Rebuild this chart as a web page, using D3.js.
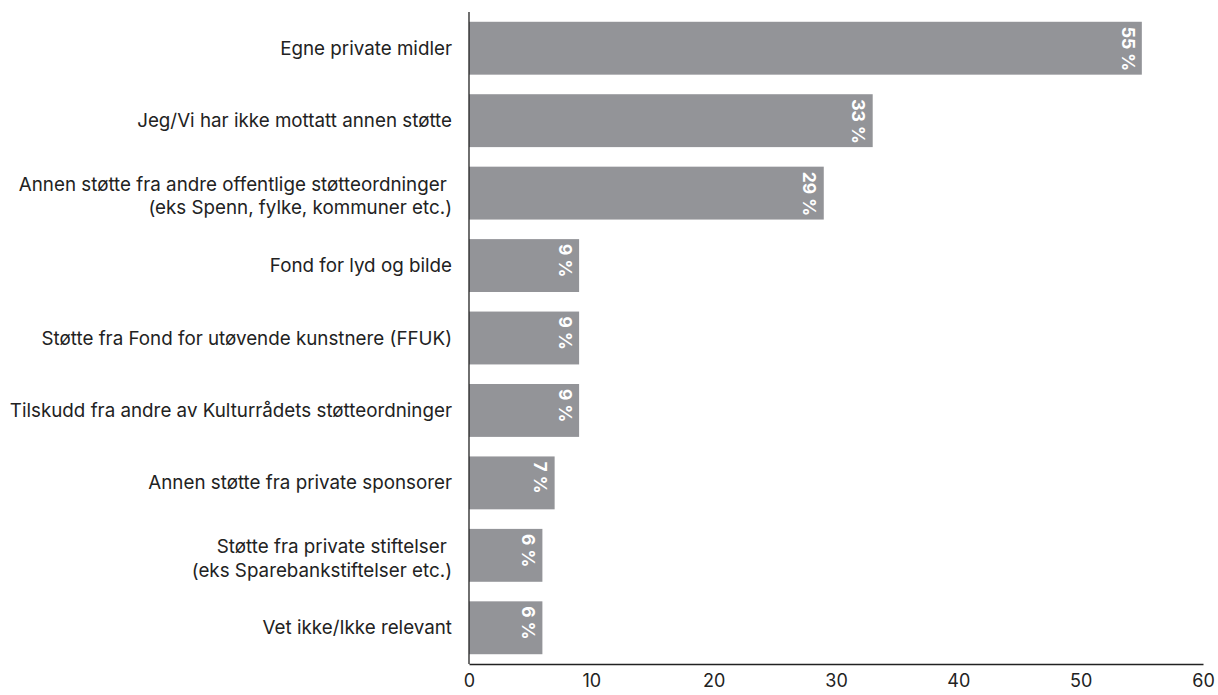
<!DOCTYPE html>
<html>
<head>
<meta charset="utf-8">
<script src="https://cdn.jsdelivr.net/npm/d3@7"></script>
<style>
  body { margin: 0; background: #fff; }
  svg { display: block; font-family: Inter, 'Liberation Sans', sans-serif; }
  .cat tspan { white-space: pre; }
</style>
</head>
<body>
<div id="chart"></div>
<script>
// categories and values (percent)
const categories = [
    ['Egne private midler'],
    ['Jeg/Vi har ikke mottatt annen støtte'],
    ['Annen støtte fra andre offentlige støtteordninger ', '(eks Spenn, fylke, kommuner etc.)'],
    ['Fond for lyd og bilde'],
    ['Støtte fra Fond for utøvende kunstnere (FFUK)'],
    ['Tilskudd fra andre av Kulturrådets støtteordninger'],
    ['Annen støtte fra private sponsorer'],
    ['Støtte fra private stiftelser ', '(eks Sparebankstiftelser etc.)'],
    ['Vet ikke/Ikke relevant']
];
const values = [55, 33, 29, 9, 9, 9, 7, 6, 6];
const xTicks = [0, 10, 20, 30, 40, 50, 60];

const barColor = '#939498';
const textColor = '#222222';

const width = 1218;
const height = 695;

const svg = d3.select('#chart')
    .append('svg')
    .attr('width', width)
    .attr('height', height);

const x = d3.scaleLinear()
    .domain([0, 60])
    .range([469, 1203]);

const y = d3.scaleBand()
    .domain(d3.range(categories.length))
    .range([12, 664])
    .paddingInner(0.27)
    .paddingOuter(0.135);

// bars
svg.selectAll('rect.bar')
    .data(values)
    .enter()
    .append('rect')
    .attr('class', 'bar')
    .attr('x', x(0))
    .attr('y', (d, i) => y(i))
    .attr('width', d => x(d) - x(0))
    .attr('height', y.bandwidth())
    .attr('fill', barColor);

// value labels, rotated
svg.selectAll('text.value')
    .data(values)
    .enter()
    .append('text')
    .attr('class', 'value')
    .attr('transform', (d, i) => 'translate(' + (x(d) - 14) + ',' + (y(i) + 5) + ') rotate(90)')
    .attr('dy', '0.36em')
    .attr('fill', '#fff')
    .attr('font-weight', 'bold')
    .attr('font-size', 17.5)
    .text(d => d + ' %');

// category labels
const labels = svg.selectAll('text.cat')
    .data(categories)
    .enter()
    .append('text')
    .attr('class', 'cat')
    .attr('text-anchor', 'end')
    .attr('fill', textColor)
    .attr('font-size', 18.8)
    .attr('y', (d, i) => y(i) + y.bandwidth() / 2 + (d.length > 1 ? 3 : 0));

labels.each(function(d) {
    const t = d3.select(this);
    d.forEach((line, j) => {
        t.append('tspan')
            .attr('x', 452)
            .attr('dy', j === 0 ? (0.35 - (d.length - 1) * 0.62) + 'em' : '1.24em')
            .text(line);
    });
});

// y axis line
svg.append('line')
    .attr('x1', x(0)).attr('x2', x(0))
    .attr('y1', 12).attr('y2', 664)
    .attr('stroke', textColor)
    .attr('stroke-width', 1.3);

// x axis
const xAxis = svg.append('g')
    .attr('transform', 'translate(0,664)')
    .call(d3.axisBottom(x).tickValues(xTicks).tickSize(0).tickPadding(10));

xAxis.select('.domain').attr('stroke', textColor).attr('stroke-width', 1.3);
xAxis.selectAll('text')
    .attr('fill', textColor)
    .attr('font-size', 18)
    .attr('font-family', "Inter, 'Liberation Sans', sans-serif");
</script>
</body>
</html>
